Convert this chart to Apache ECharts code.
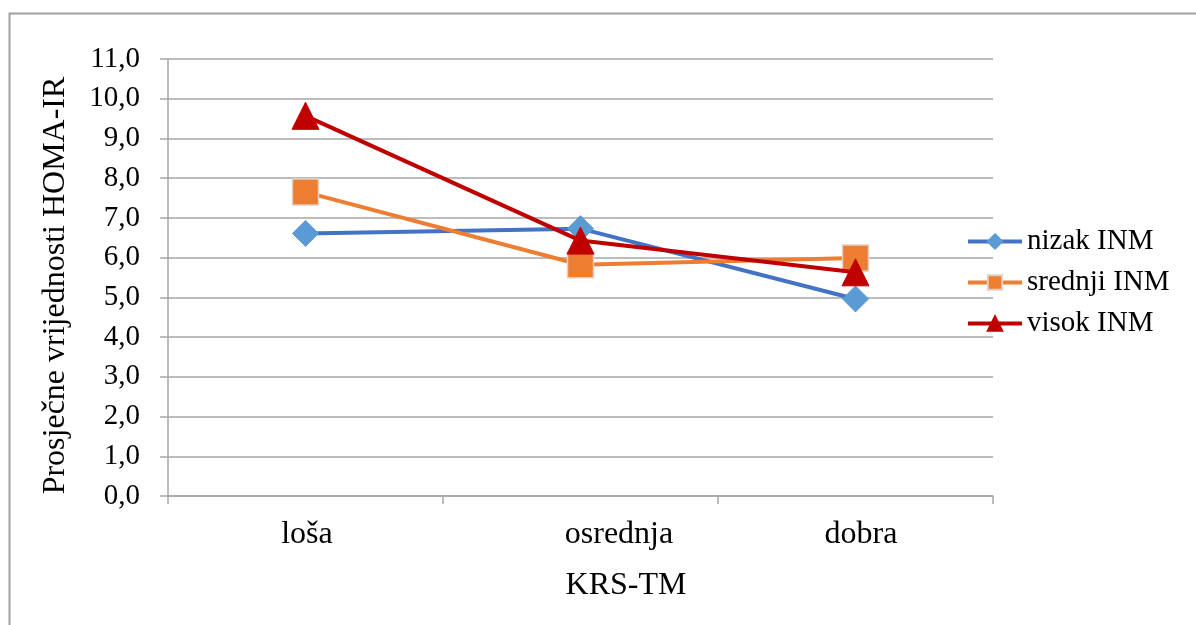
<!DOCTYPE html>
<html>
<head>
<meta charset="utf-8">
<script src="https://cdn.jsdelivr.net/npm/echarts@6/dist/echarts.min.js"></script>
<style>
html,body{margin:0;padding:0;background:#fff;}
#c{width:1196px;height:625px;}
</style>
</head>
<body>
<div id="c"></div>
<script>
const categories = ['loša', 'osrednja', 'dobra'];
const seriesNames = ['nizak INM', 'srednji INM', 'visok INM'];
const nizak = [6.61, 6.73, 4.96];
const srednji = [7.65, 5.82, 5.99];
const visok = [9.57, 6.43, 5.63];
const yTicks = [0, 1, 2, 3, 4, 5, 6, 7, 8, 9, 10, 11];

const FONT = '"Liberation Serif", "Times New Roman", serif';
const FS = 29;
const FSB = 32;
const chart = echarts.init(document.getElementById('c'), null, {renderer: 'canvas'});

const option = {
  backgroundColor: '#ffffff',
  animation: false,
  textStyle: {fontFamily: FONT, color: '#000'},
  graphic: [{
    type: 'rect',
    shape: {x: 9.5, y: 13.5, width: 1250, height: 700},
    style: {fill: 'none', stroke: '#a0a0a0', lineWidth: 2},
    silent: true, z: -1
  }],
  grid: {left: 168, right: 203, top: 59, bottom: 129, containLabel: false},
  legend: {
    orient: 'vertical',
    left: 966,
    top: 227,
    padding: 0,
    itemWidth: 54,
    itemHeight: 18,
    itemGap: 12,
    data: seriesNames,
    lineStyle: {width: 4},
    textStyle: {fontFamily: FONT, fontSize: FS, color: '#000'}
  },
  xAxis: {
    type: 'category',
    data: categories,
    boundaryGap: true,
    name: 'KRS-TM',
    nameLocation: 'middle',
    nameGap: 74,
    nameTextStyle: {fontFamily: FONT, fontSize: FSB, color: '#000', padding: [0, 0, 0, 91]},
    axisLine: {lineStyle: {color: '#a6a6a6', width: 1.5}},
    axisTick: {show: true, length: 8, inside: false, lineStyle: {color: '#a6a6a6', width: 1.5}},
    axisLabel: {
      fontFamily: FONT, fontSize: FSB, color: '#000', margin: 23,
      formatter: (v, i) => '{c' + i + '|' + v + '}',
      rich: {
        c0: {fontFamily: FONT, fontSize: FSB, color: '#000', padding: [0, 0, 0, 3]},
        c1: {fontFamily: FONT, fontSize: FSB, color: '#000', padding: [0, 0, 0, 77]},
        c2: {fontFamily: FONT, fontSize: FSB, color: '#000', padding: [0, 0, 0, 11]}
      }
    }
  },
  yAxis: {
    type: 'value',
    min: 0, max: 11, interval: 1,
    name: 'Prosječne vrijednosti HOMA-IR',
    nameLocation: 'middle',
    nameGap: 96,
    nameRotate: 90,
    nameTextStyle: {fontFamily: FONT, fontSize: FSB, color: '#000', padding: [0, 16, 0, 0]},
    axisLine: {show: true, lineStyle: {color: '#a6a6a6', width: 1.5}},
    axisTick: {show: true, length: 8, inside: false, lineStyle: {color: '#a6a6a6', width: 1.5}},
    splitLine: {show: true, lineStyle: {color: '#a6a6a6', width: 1.5}},
    axisLabel: {
      fontFamily: FONT, fontSize: FS, color: '#000', margin: 28,
      formatter: v => yTicks.includes(v) ? v.toFixed(1).replace('.', ',') : ''
    }
  },
  series: [
    {
      name: seriesNames[0], type: 'line', data: nizak,
      symbol: 'diamond', symbolSize: 26,
      lineStyle: {color: '#4472C4', width: 4},
      itemStyle: {color: '#5B9BD5', borderColor: '#5B9BD5', borderWidth: 1},
      z: 2
    },
    {
      name: seriesNames[1], type: 'line', data: srednji,
      symbol: 'rect', symbolSize: 26,
      lineStyle: {color: '#ED7D31', width: 4},
      itemStyle: {color: '#ED7D31', borderColor: '#e0d0c8', borderWidth: 1.5},
      z: 3
    },
    {
      name: seriesNames[2], type: 'line', data: visok,
      symbol: 'triangle', symbolSize: 27,
      lineStyle: {color: '#C00000', width: 4},
      itemStyle: {color: '#C00000', borderColor: '#C00000', borderWidth: 1},
      z: 4
    }
  ]
};
chart.setOption(option);
</script>
</body>
</html>
